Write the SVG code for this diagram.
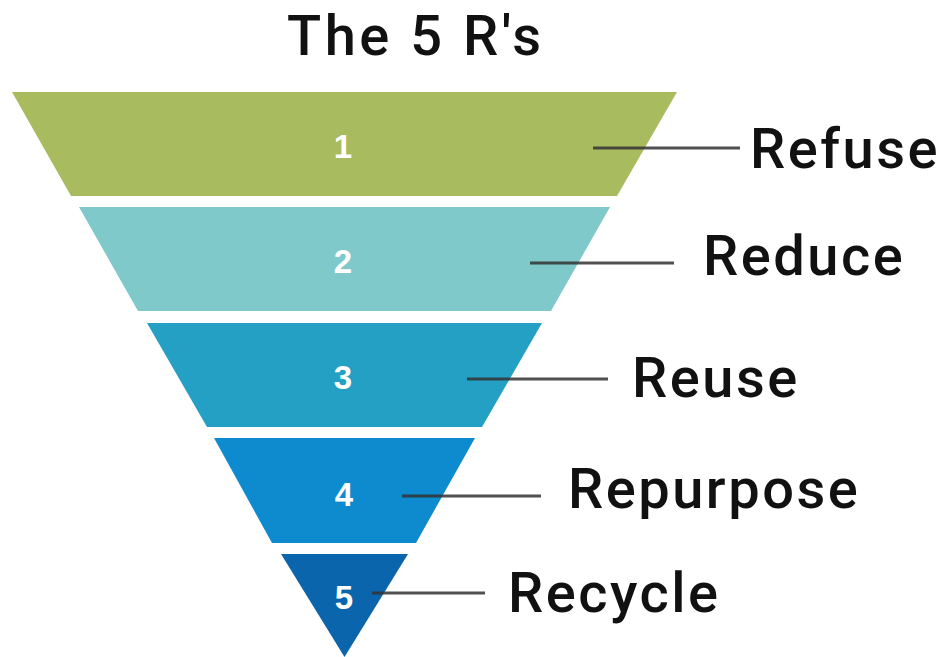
<svg xmlns="http://www.w3.org/2000/svg" width="944" height="657" viewBox="0 0 944 657">
<style>
.num{font-family:"Liberation Sans",Arial,sans-serif;font-weight:bold;font-size:33px;fill:#ffffff;text-anchor:middle}
.lbl{font-family:Roboto,"Liberation Sans",sans-serif;font-size:56px;font-weight:500;letter-spacing:2.5px;fill:#111111}
.ln{stroke:#333333;stroke-width:3;stroke-opacity:0.85}
</style>
<rect width="944" height="657" fill="#ffffff"/>
<text x="287" y="55" class="lbl" style="letter-spacing:3.5px">The 5 R's</text>
<g id="band1"><polygon points="12,92 677,92 617,196 71,196" fill="#A8BB5F"/><text x="343" y="158" class="num">1</text></g>
<g id="band2"><polygon points="79,207 610,207 551,311 138,311" fill="#7FC9CB"/><text x="343" y="273" class="num">2</text></g>
<g id="band3"><polygon points="147,323 542,323 482,427 207,427" fill="#25A0C5"/><text x="343" y="389" class="num">3</text></g>
<g id="band4"><polygon points="214,438 475,438 416,543 272,543" fill="#0E8BCF"/><text x="344" y="506" class="num">4</text></g>
<g id="band5"><polygon points="281,554 408,554 344.5,657" fill="#0B65AC"/><text x="344" y="609" class="num">5</text></g>
<g id="connectors">
<line class="ln" x1="593" y1="148" x2="740" y2="148"/>
<line class="ln" x1="530" y1="263" x2="674" y2="263"/>
<line class="ln" x1="467" y1="379" x2="608" y2="379"/>
<line class="ln" x1="402" y1="496" x2="541" y2="496"/>
<line class="ln" x1="372" y1="593" x2="485" y2="593"/>
</g>
<g id="labels">
<text x="750" y="168" class="lbl">Refuse</text>
<text x="703" y="275" class="lbl">Reduce</text>
<text x="632" y="397" class="lbl">Reuse</text>
<text x="568" y="508" class="lbl">Repurpose</text>
<text x="508" y="612" class="lbl">Recycle</text>
</g>
</svg>
